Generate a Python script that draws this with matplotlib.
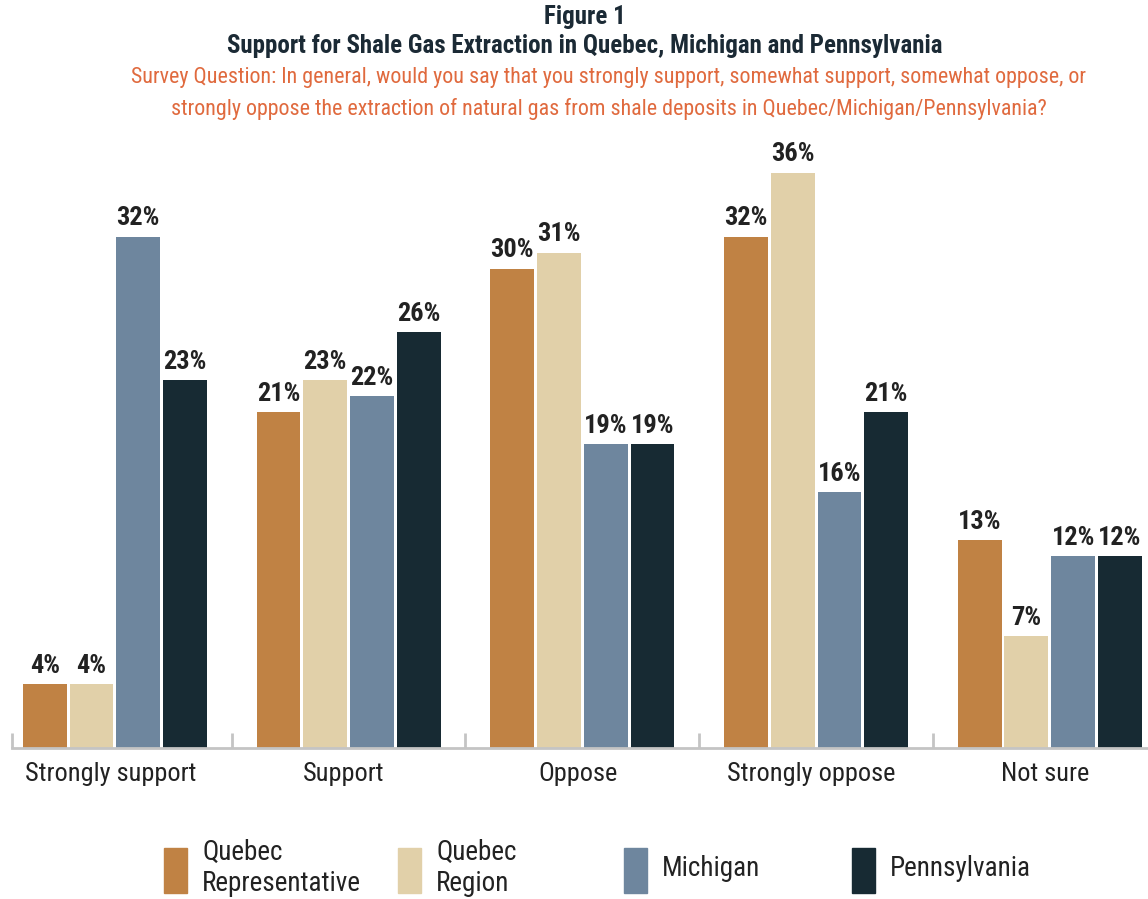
import matplotlib
matplotlib.use("Agg")
import matplotlib.pyplot as plt
from matplotlib import font_manager
from matplotlib.patches import Rectangle
import numpy as np

categories = ['Strongly support', 'Support', 'Oppose', 'Strongly oppose', 'Not sure']
series_names = ['Quebec\nRepresentative', 'Quebec\nRegion', 'Michigan', 'Pennsylvania']
quebec_rep = [4, 21, 30, 32, 13]
quebec_region = [4, 23, 31, 36, 7]
michigan = [32, 22, 19, 16, 12]
pennsylvania = [23, 26, 19, 21, 12]
colors = ['#C08244', '#E1D0A9', '#6E869E', '#172A33']

available = {f.name for f in font_manager.fontManager.ttflist}
font = 'DejaVu Sans'
for cand in ['Roboto Condensed', 'Liberation Sans Narrow', 'DejaVu Sans Condensed', 'Roboto']:
    if cand in available:
        font = cand
        break
plt.rcParams['font.family'] = [font, 'DejaVu Sans']

fig = plt.figure(figsize=(11.48, 8.99), dpi=100)
ax = fig.add_axes([0.0105, 0.168, 0.9895, 0.711])

x = np.arange(len(categories))
step = 0.2
width = 0.188
all_vals = [quebec_rep, quebec_region, michigan, pennsylvania]
for i, vals in enumerate(all_vals):
    pos = x + (i - 1.5) * step
    bars = ax.bar(pos, vals, width=width, color=colors[i])
    for b, v in zip(bars, vals):
        ax.text(b.get_x() + b.get_width() / 2, v + 0.4, f'{v}%', ha='center', va='bottom',
                fontsize=19, fontweight='bold', color='#222222')

xmin = -0.44
ax.set_xlim(xmin, 4.42)
ax.set_ylim(0, 40)
for s in ['top', 'right', 'left']:
    ax.spines[s].set_visible(False)
ax.spines['bottom'].set_color('#C4C4C4')
ax.spines['bottom'].set_linewidth(2)
ax.set_yticks([])
ax.set_xticks([xmin, 0.5, 1.5, 2.5, 3.5])
ax.set_xticklabels([])
ax.tick_params(axis='x', direction='in', length=11, width=2, color='#C4C4C4')
for xi, c in zip(x, categories):
    ax.text(xi - 0.02, -0.85, c, ha='center', va='top', fontsize=19, color='#222222')

fig.text(0.5096, 0.981, 'Figure 1', ha='center', va='center', fontsize=18, fontweight='bold', color='#1B2A35')
fig.text(0.5096, 0.949, 'Support for Shale Gas Extraction in Quebec, Michigan and Pennsylvania',
         ha='center', va='center', fontsize=18, fontweight='bold', color='#1B2A35')
fig.text(0.53, 0.914, 'Survey Question: In general, would you say that you strongly support, somewhat support, somewhat oppose, or',
         ha='center', va='center', fontsize=15.8, color='#E06A3E')
fig.text(0.53, 0.879, 'strongly oppose the extraction of natural gas from shale deposits in Quebec/Michigan/Pennsylvania?',
         ha='center', va='center', fontsize=15.8, color='#E06A3E')

W, H = 1148, 899
patch_x = [164, 398, 624, 852]
for px, name, col in zip(patch_x, series_names, colors):
    fig.add_artist(Rectangle((px / W, (H - 893) / H), 23 / W, 45 / H, color=col, transform=fig.transFigure))
    fig.text((px + 38) / W, (H - 868) / H, name, ha='left', va='center', fontsize=19.5,
             color='#222222', linespacing=1.2)

fig.savefig('out.png', dpi=100)
